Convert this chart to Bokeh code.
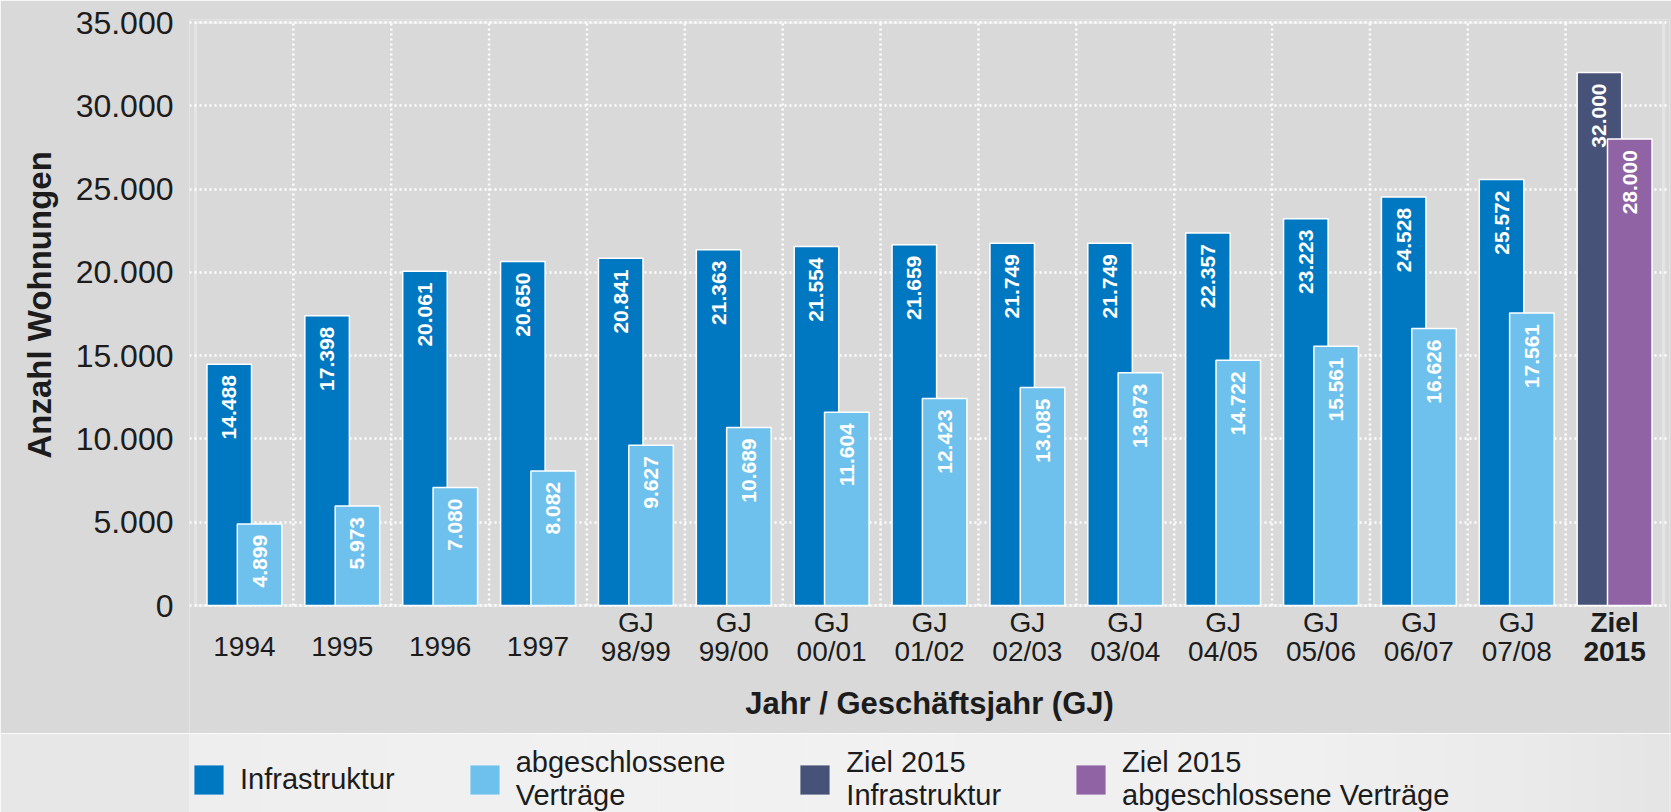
import math
from bokeh.plotting import figure
from bokeh.models import (ColumnDataSource, FactorRange, Range1d, FixedTicker,
                          Label, Legend, LegendItem, BoxAnnotation, Title)
from bokeh.transform import dodge
from bokeh.layouts import column
from bokeh.embed import file_html
from bokeh.resources import INLINE
from bokeh.core.properties import value

# ---------------- data ----------------
categories = ["1994", "1995", "1996", "1997", "GJ 98/99", "GJ 99/00", "GJ 00/01",
              "GJ 01/02", "GJ 02/03", "GJ 03/04", "GJ 04/05", "GJ 05/06",
              "GJ 06/07", "GJ 07/08"]
infrastruktur = [14488, 17398, 20061, 20650, 20841, 21363, 21554, 21659, 21749,
                 21749, 22357, 23223, 24528, 25572]
vertraege = [4899, 5973, 7080, 8082, 9627, 10689, 11604, 12423, 13085, 13973,
             14722, 15561, 16626, 17561]
ziel_category = "Ziel 2015"
ziel_infrastruktur = [32000]
ziel_vertraege = [28000]
y_ticks = [0, 5000, 10000, 15000, 20000, 25000, 30000, 35000]
legend_labels = ["Infrastruktur", "abgeschlossene\nVerträge",
                 "Ziel 2015\nInfrastruktur", "Ziel 2015\nabgeschlossene Verträge"]
y_title = "Anzahl Wohnungen"
x_title = "Jahr / Geschäftsjahr (GJ)"

# ---------------- styles / layout ----------------
FONT = "Liberation Sans"
BG = "#d9d9d9"
C_INFRA = "#0077c1"
C_VERT = "#6ec1ec"
C_ZINFRA = "#465277"
C_ZVERT = "#9063a4"
TXT = "#1c1c1c"
W = 1671
Y_MAX = 35000
PX_TOP, PX_ZERO, PX_BOTTOM = 22, 605, 733      # page rows of 35000, 0, chart bottom
UPP = Y_MAX / (PX_ZERO - PX_TOP)               # data units per pixel


def ypx(row_px):
    """data y of a given page row (for text placed below the bars)"""
    return (PX_ZERO - row_px) * UPP


def de(n):
    return f"{n:,}".replace(",", ".")


all_cats = categories + [ziel_category]

# ---------------- main chart ----------------
p = figure(width=W, height=PX_BOTTOM,
           x_range=FactorRange(*all_cats, range_padding=0.061,
                               range_padding_units="absolute"),
           y_range=Range1d(ypx(PX_BOTTOM), Y_MAX + 3 * UPP),
           output_backend="svg", toolbar_location=None,
           min_border_left=189, min_border_right=2, min_border_top=PX_TOP - 3,
           min_border_bottom=0)
p.background_fill_color = BG
p.border_fill_color = BG
p.outline_line_color = None

p.xaxis.visible = False
yax = p.yaxis[0]
yax.ticker = FixedTicker(ticks=y_ticks)
yax.major_label_overrides = {t: de(t) for t in y_ticks}
yax.major_label_text_font = FONT
yax.major_label_text_font_size = "32px"
yax.major_label_text_color = TXT
yax.major_label_standoff = 16
yax.major_tick_out = 0
yax.major_tick_in = 0
yax.major_tick_line_color = None
yax.minor_tick_line_color = None
yax.axis_line_color = None

# y title, aligned with the value area (not with the whole frame)
p.add_layout(Title(text=y_title, align="left", offset=PX_BOTTOM - 458,
                   text_font=FONT, text_font_size="33px", text_font_style="bold",
                   text_color=TXT, standoff=30), "left")

p.xgrid.visible = False
p.ygrid[0].grid_line_color = "white"
p.ygrid[0].grid_line_dash = "2 3"
p.ygrid[0].grid_line_width = 2.5

# vertical dotted separators between the categories (from 0 to 35.000)
sep = ColumnDataSource(dict(cat=all_cats[:-1]))
p.segment(x0=dodge("cat", 0.5, range=p.x_range), y0=0,
          x1=dodge("cat", 0.5, range=p.x_range), y1=Y_MAX, source=sep,
          line_color="white", line_dash="2 3", line_width=2.5, level="underlay")

# white frame around the value area
p.add_layout(BoxAnnotation(left=0, right=len(all_cats), bottom=0, top=Y_MAX,
                           fill_alpha=0, line_color="white", line_width=3,
                           level="underlay"))

src = ColumnDataSource(dict(cat=categories, infra=infrastruktur, vert=vertraege,
                            infra_lbl=[de(v) for v in infrastruktur],
                            vert_lbl=[de(v) for v in vertraege]))
zsrc = ColumnDataSource(dict(cat=[ziel_category], infra=ziel_infrastruktur,
                             vert=ziel_vertraege,
                             infra_lbl=[de(v) for v in ziel_infrastruktur],
                             vert_lbl=[de(v) for v in ziel_vertraege]))

OFF = 0.155
BW = 0.455
lbl_style = dict(angle=math.pi / 2, text_align="right", text_baseline="middle",
                 y_offset=11, text_color="white", text_font=value(FONT),
                 text_font_style="bold", text_font_size="21px")
for s, c1, c2 in ((src, C_INFRA, C_VERT), (zsrc, C_ZINFRA, C_ZVERT)):
    p.vbar(x=dodge("cat", -OFF, range=p.x_range), top="infra", width=BW, source=s,
           fill_color=c1, line_color="white", line_width=1.5)
    p.text(x=dodge("cat", -OFF, range=p.x_range), y="infra", text="infra_lbl",
           source=s, **lbl_style)
    p.vbar(x=dodge("cat", OFF, range=p.x_range), top="vert", width=BW, source=s,
           fill_color=c2, line_color="white", line_width=1.5)
    p.text(x=dodge("cat", OFF, range=p.x_range), y="vert", text="vert_lbl",
           source=s, **lbl_style)

# category labels under the bars
singles = [c for c in categories if " " not in c]
doubles = [c for c in categories if " " in c]
s_single = ColumnDataSource(dict(cat=singles, t=singles))
s_double = ColumnDataSource(dict(cat=doubles, l1=[c.split(" ")[0] for c in doubles],
                                 l2=[c.split(" ")[1] for c in doubles]))
s_ziel = ColumnDataSource(dict(cat=[ziel_category], l1=[ziel_category.split(" ")[0]],
                               l2=[ziel_category.split(" ")[1]]))
common = dict(text_align="center", text_baseline="middle", text_font=value(FONT),
              text_font_size="28px", text_color=TXT)
p.text(x="cat", y=ypx(646), text="t", source=s_single, **common)
p.text(x="cat", y=ypx(622), text="l1", source=s_double, **common)
p.text(x="cat", y=ypx(651), text="l2", source=s_double, **common)
p.text(x="cat", y=ypx(622), text="l1", source=s_ziel, text_font_style="bold", **common)
p.text(x="cat", y=ypx(651), text="l2", source=s_ziel, text_font_style="bold", **common)
p.add_layout(Label(x=len(all_cats) / 2, y=ypx(703), text=x_title, text_align="center",
                   text_baseline="middle", text_font=FONT, text_font_size="31px",
                   text_font_style="bold", text_color=TXT))

# ---------------- legend band ----------------
HB = 812 - PX_BOTTOM
pb = figure(width=W, height=HB, x_range=Range1d(189, 1669), y_range=Range1d(0, HB),
            output_backend="svg", toolbar_location=None, min_border=0,
            x_axis_type=None, y_axis_type=None)
pb.grid.visible = False
pb.outline_line_color = None
pb.background_fill_color = None
pb.border_fill_color = "#e7e7e7"

profile = [(189, 0xee), (600, 0xf1), (1300, 0xf0), (1500, 0xeb), (1669, 0xe4)]


def shade(x):
    for (a, va), (b, vb) in zip(profile[:-1], profile[1:]):
        if a <= x <= b:
            v = int(round(va + (vb - va) * (x - a) / (b - a)))
            return "#%02x%02x%02x" % (v, v, v)
    return "#efefef"


n = 60
step = (1669 - 189) / n
lefts = [189 + step * i for i in range(n)]
rights = [189 + step * (i + 1) + 0.5 for i in range(n)]
cols = [shade(189 + step * (i + 0.5)) for i in range(n)]
pb.quad(left=lefts, right=rights, bottom=0, top=HB, fill_color=cols, line_color=None)

leg_colors = [C_INFRA, C_VERT, C_ZINFRA, C_ZVERT]
items = []
for lbl, c in zip(legend_labels, leg_colors):
    r = pb.rect(x=[-5000], y=[-5000], width=1, height=1, fill_color=c,
                line_color="#ffffff", line_alpha=0.35, line_width=1)
    items.append(LegendItem(label=lbl, renderers=[r]))
legend = Legend(items=items, orientation="horizontal", location=(1, 0),
                glyph_width=37, glyph_height=37, label_standoff=13, spacing=71,
                padding=0, margin=0, background_fill_alpha=0, border_line_color=None,
                label_text_font=FONT, label_text_font_size="29px",
                label_text_line_height=1.15, label_text_color=TXT)
pb.add_layout(legend, "center")

layout = column(p, pb, spacing=0)
open("out.html", "w").write(file_html(layout, INLINE))
